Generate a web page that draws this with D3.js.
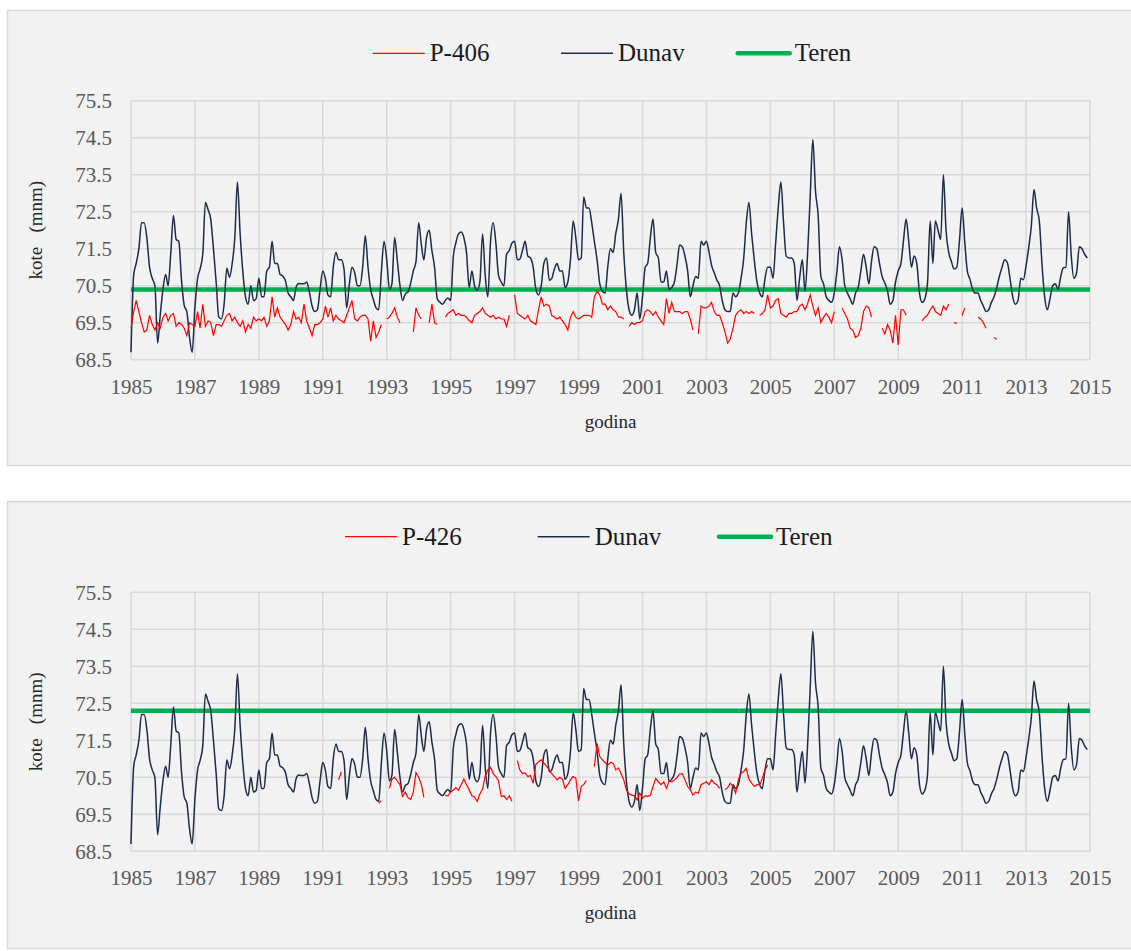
<!DOCTYPE html>
<html>
<head>
<meta charset="utf-8">
<script src="https://cdn.jsdelivr.net/npm/d3@7"></script>
<style>
  body { margin: 0; background: #fff; }
  svg text { font-family: "Liberation Serif", "DejaVu Serif", serif; }
</style>
</head>
<body>
<svg id="chart" width="1131" height="951"></svg>
<script>
// x tick labels (years) and y tick labels (kote)
const yearTicks = [1985, 1987, 1989, 1991, 1993, 1995, 1997, 1999, 2001, 2003, 2005, 2007, 2009, 2011, 2013, 2015];
const levelTicks = [68.5, 69.5, 70.5, 71.5, 72.5, 73.5, 74.5, 75.5];

// monthly Dunav levels, Jan 1985 - Dec 2014 (one row per year)
const dunav = [
  68.7, 70.8, 71.1, 71.5, 72.2, 72.2, 71.8, 71.0, 70.7, 70.5, 68.95, 69.7,
  70.4, 70.8, 70.5, 71.4, 72.4, 71.75, 71.7, 70.65, 69.97, 69.8, 69.1, 68.7,
  69.9, 70.7, 70.95, 71.35, 72.75, 72.55, 72.3, 71.5, 70.6, 69.65, 69.6, 70.0,
  70.97, 70.73, 71.08, 71.8, 73.3, 71.9, 70.9, 70.2, 70.0, 70.5, 70.1, 70.15,
  70.7, 70.2, 70.2, 70.9, 71.0, 71.7, 71.1, 71.1, 70.8, 70.76, 70.63, 70.3,
  70.2, 70.1, 70.45, 70.56, 70.55, 70.55, 70.6, 70.33, 69.95, 69.8, 69.85, 70.4,
  70.9, 70.68, 70.25, 70.2, 71.0, 71.4, 71.2, 71.2, 70.95, 69.9, 70.55, 71.0,
  70.85, 70.5, 70.5, 71.0, 71.85, 71.0, 70.4, 70.13, 69.9, 69.85, 70.9, 71.7,
  71.2, 70.4, 70.55, 71.8, 71.2, 70.5, 70.1, 70.28, 70.33, 70.57, 70.9, 71.15,
  72.2, 71.6, 71.2, 71.8, 72.0, 71.45, 71.0, 70.15, 70.05, 70.0, 70.1, 70.17,
  70.1, 71.3, 71.65, 71.9, 71.95, 71.8, 71.4, 70.45, 70.9, 70.5, 70.38, 70.6,
  71.9, 70.75, 70.2, 71.7, 72.2, 71.65, 70.78, 70.6, 70.5, 71.35, 71.45, 71.65,
  71.7, 71.2, 71.22, 71.45, 71.7, 71.3, 71.25, 71.0, 70.4, 70.25, 70.5, 71.1,
  71.25, 70.65, 70.7, 70.95, 71.1, 70.9, 70.9, 70.45, 70.6, 71.2, 72.25, 71.8,
  71.2, 71.25, 72.9, 72.6, 72.6, 72.2, 71.7, 71.2, 70.55, 70.35, 70.3, 71.0,
  71.5, 71.4, 71.9, 72.3, 73.0, 71.4, 70.4, 69.85, 69.7, 69.85, 70.3, 69.6,
  70.2, 71.0, 71.1, 71.8, 72.3, 71.4, 71.25, 70.6, 70.6, 70.9, 70.4, 70.45,
  70.6, 71.1, 71.6, 71.55, 71.3, 70.9, 70.2, 70.5, 70.75, 70.7, 71.7, 71.6,
  71.7, 71.4, 71.05, 70.85, 70.65, 70.5, 70.1, 69.85, 69.8, 69.8, 70.3, 70.2,
  70.3, 70.7, 71.2, 72.2, 72.75, 71.9, 71.2, 70.6, 70.3, 70.2, 70.7, 71.0,
  71.0, 70.7, 71.6, 72.6, 73.3, 72.2, 71.3, 71.25, 71.25, 71.1, 70.1, 70.7,
  71.2, 70.35, 71.3, 72.9, 74.45, 73.05, 72.4, 70.75, 70.55, 70.2, 70.1, 70.05,
  70.3, 70.9, 71.55, 71.2, 70.5, 70.3, 70.15, 70.0, 70.3, 70.45, 70.9, 71.35,
  71.0, 70.55, 71.15, 71.55, 71.5, 71.1, 70.75, 70.57, 70.35, 70.0, 70.1, 70.6,
  70.9, 71.1, 71.7, 72.3, 71.7, 71.0, 71.3, 71.1, 70.3, 70.05, 70.15, 70.55,
  72.25, 71.1, 72.25, 72.0, 71.75, 73.5, 72.0, 71.4, 71.15, 70.95, 71.0, 71.7,
  72.6, 71.65, 70.9, 70.67, 70.4, 70.3, 70.3, 70.1, 69.95, 69.8, 69.85, 70.05,
  70.2, 70.45, 70.75, 71.0, 71.2, 71.12, 70.7, 70.2, 70.0, 70.1, 70.7, 70.66,
  71.05, 71.55, 72.1, 73.1, 72.6, 72.25, 71.1, 70.2, 69.85, 70.15, 70.5, 70.55,
  70.4, 70.75, 70.98, 71.0, 72.5, 71.3, 70.7, 70.85, 71.55, 71.5, 71.35, 71.25
];

// monthly piezometer P-406, null = no reading
const p406 = [
  69.35, 69.8, 70.1, 69.8, 69.5, 69.25, 69.3, 69.7, 69.45, 69.3, 69.5, 69.35,
  69.65, 69.75, 69.55, 69.7, 69.75, 69.4, 69.5, 69.45, 69.35, 69.15, 69.5, 69.45,
  69.4, 69.8, 69.35, 70.0, 69.4, 69.55, 69.5, 69.15, 69.45, 69.45, 69.4, 69.55,
  69.7, 69.75, 69.55, 69.65, 69.5, 69.4, 69.55, 69.25, 69.45, 69.35, 69.65, 69.55,
  69.6, 69.55, 69.65, 69.4, 69.55, 70.2, 69.65, 69.9, 69.65, 69.55, 69.45, 69.3,
  69.45, 69.8, 69.6, 69.65, 69.5, 70.0, 69.55, 69.35, 69.15, 69.45, 69.45, 69.5,
  69.6, 69.95, 69.65, 69.9, 69.55, 69.7, 69.6, 69.55, 69.5, 69.7, 69.9, 70.1,
  69.6, 69.55, 69.65, 69.7, 69.7, 69.6, 69.0, 69.55, 69.1, 69.25, 69.45, null,
  69.6, 69.65, 69.75, 69.9, 69.65, 69.5, null, null, null, null, 69.25, 69.9,
  69.7, 69.6, null, null, 69.5, 70.0, 69.5, 69.45, null, null, 69.65, 69.75,
  69.8, 69.85, 69.7, 69.75, 69.7, 69.7, 69.65, 69.55, 69.5, 69.7, 69.75, 69.8,
  69.9, 69.75, 69.7, 69.65, 69.7, 69.6, 69.65, 69.6, 69.6, 69.4, 69.7, null,
  70.25, 69.75, 69.7, 69.65, 69.6, 69.7, 69.55, 69.5, 69.45, 69.85, 70.2, 69.95,
  70.0, 69.95, 69.7, 69.65, 69.6, 69.65, 69.55, 69.45, 69.3, 69.65, 69.8, 69.65,
  69.6, 69.65, 69.7, 69.7, 69.7, 69.65, 70.2, 70.35, 70.25, 70.0, 70.0, 69.85,
  69.95, 69.85, 69.8, 69.65, 69.65, 69.6, null, 69.4, 69.5, 69.45, 69.5, 69.5,
  69.55, 69.8, 69.85, 69.8, 69.7, 69.8, 69.65, 69.55, 69.45, 70.15, 69.75, 70.05,
  69.8, 69.8, 69.8, 69.75, 69.8, 69.8, 69.6, 69.3, null, 69.2, 69.95, 69.9,
  69.9, 69.95, 70.05, 69.8, 69.7, 69.7, 69.5, 69.25, 68.95, 69.05, 69.35, 69.7,
  69.8, 69.85, 69.75, 69.8, 69.75, 69.8, 69.75, null, 69.7, 69.75, 69.85, 70.25,
  69.9, 69.95, 70.1, 70.15, 69.75, 69.7, 69.65, 69.75, 69.75, 69.8, 69.8, 69.95,
  70.0, 69.85, 70.0, 70.25, 69.95, 69.7, 69.9, 69.5, 69.65, 69.75, 69.65, 69.5,
  69.8, null, null, 69.9, 69.75, 69.6, 69.35, 69.3, 69.1, 69.15, 69.35, 69.8,
  69.95, 69.9, 69.65, null, null, null, 69.35, 69.2, 69.45, 69.3, 68.95, 69.7,
  68.9, 69.85, 69.85, 69.7, null, null, null, null, null, 69.55, 69.65, 69.7,
  69.85, 69.95, 69.8, 69.75, 69.7, 69.95, 69.85, 70.0, null, 69.5, 69.48, null,
  69.7, 69.9, null, null, null, null, 69.65, 69.6, 69.5, 69.35, null, null,
  69.1, 69.05, null, null, null, null, null, null, null, null, null, null,
  null, null, null, null, null, null, null, null, null, null, null, null,
  null, null, null, null, null, null, null, null, null, null, null, null
];

// monthly piezometer P-426, null = no reading
const p426 = [
  null, null, null, null, null, null, null, null, null, null, null, null,
  null, null, null, null, null, null, null, null, null, null, null, null,
  null, null, null, null, null, null, null, null, null, null, null, null,
  null, null, null, null, null, null, null, null, null, null, null, null,
  null, null, null, null, null, null, null, null, null, null, null, null,
  null, null, null, null, null, null, null, null, null, null, null, null,
  null, null, null, null, null, null, 70.43, 70.65, null, null, null, null,
  null, null, null, null, null, null, null, null, null, 69.8, 69.87, null,
  null, 70.2, 70.45, 70.5, 70.4, 70.3, 69.98, 70.1, 69.95, 69.9, 70.1, 70.63,
  70.5, 70.3, 69.96, null, null, null, null, null, null, null, 70.02, 70.0,
  70.1, 70.15, 70.22, 70.15, 70.3, 70.45, 70.3, 70.16, 70.0, 69.97, 69.85, 70.05,
  70.18, 70.55, 70.7, 70.77, 70.6, 70.52, 70.4, 69.98, 70.0, 69.9, 70.0, 69.85,
  null, 70.95, 70.7, 70.6, 70.62, 70.52, 70.55, 70.34, 70.85, 70.92, 70.97, 70.88,
  70.8, 70.7, 70.6, 70.52, 70.43, 70.5, 70.45, 70.2, 70.3, 70.43, 70.52, 70.48,
  69.86, 70.25, 70.3, 70.41, null, null, 70.79, 71.42, 71.06, 70.97, 70.9, 70.83,
  70.9, 70.88, 70.7, 70.75, 70.6, 70.43, 70.16, 70.05, 70.02, 70.0, 69.89, 70.07,
  69.93, 70.0, 69.98, 70.02, 70.25, 70.47, 70.38, 70.3, 70.38, 70.2, 70.4, 70.38,
  70.43, 70.5, 70.59, 70.6, 70.43, 70.25, 70.16, 70.02, 70.1, 70.07, 70.3, 70.34,
  70.38, 70.3, 70.43, 70.34, 70.3, 70.2, null, 70.16, 70.22, 70.34, 70.25, 70.07,
  70.43, 70.61, 70.65, 70.74, 70.45, 70.34, 70.25, 70.3, 70.3, 70.47, 70.7, 70.83
];

// ground level (Teren) for each piezometer
const terenP406 = 70.4;
const terenP426 = 72.3;

const RED = "#ff0000";
const NAVY = "#1c2b48";
const GREEN = "#00b050";
const GRID = "#d9d9d9";
const FONT = "'Liberation Serif', 'DejaVu Serif', serif";

const svg = d3.select("#chart");

const x = d3.scaleTime()
    .domain([new Date(1985, 0, 1), new Date(2015, 0, 1)])
    .range([131, 1090]);

function toPoints(values) {
    return values.map(function (v, i) {
        return {date: new Date(1985, i, 1), v: v};
    });
}

const panels = [
    {name: "P-406", values: p406, teren: terenP406, box: [10.5, 455], plotTop: 100.7,
     legendY: 53.3, legendX: [372.7, 561, 737.7]},
    {name: "P-426", values: p426, teren: terenP426, box: [501.5, 447], plotTop: 592.3,
     legendY: 536.7, legendX: [345, 537.7, 719]}
];

panels.forEach(function (p) {
    const plotH = 259;
    const y = d3.scaleLinear()
        .domain([68.5, 75.5])
        .range([p.plotTop + plotH, p.plotTop]);

    const g = svg.append("g");

    g.append("rect")
        .attr("x", 7.5).attr("y", p.box[0])
        .attr("width", 1130).attr("height", p.box[1])
        .attr("fill", "#f2f2f2")
        .attr("stroke", GRID).attr("stroke-width", 1.5);

    // gridlines
    g.append("g").selectAll("line.h")
        .data(levelTicks).enter().append("line")
        .attr("x1", x.range()[0]).attr("x2", x.range()[1])
        .attr("y1", d => y(d)).attr("y2", d => y(d))
        .attr("stroke", GRID).attr("stroke-width", 1.5);

    g.append("g").selectAll("line.v")
        .data(yearTicks).enter().append("line")
        .attr("x1", d => x(new Date(d, 0, 1))).attr("x2", d => x(new Date(d, 0, 1)))
        .attr("y1", y(68.5)).attr("y2", y(75.5))
        .attr("stroke", GRID).attr("stroke-width", 1.5);

    // axes (labels only)
    const yAxis = g.append("g")
        .attr("transform", "translate(" + x.range()[0] + ",0)")
        .call(d3.axisLeft(y).tickValues(levelTicks).tickSize(0).tickPadding(19)
            .tickFormat(d3.format(".1f")))
        .attr("font-family", FONT)
        .attr("font-size", 21);
    yAxis.select(".domain").remove();
    yAxis.selectAll("text")
        .style("font-family", FONT)
        .attr("fill", "#595959");

    const xAxis = g.append("g")
        .attr("transform", "translate(0," + y(68.5) + ")")
        .call(d3.axisBottom(x).tickValues(yearTicks.map(d => new Date(d, 0, 1))).tickSize(0)
            .tickFormat(d3.timeFormat("%Y")))
        .attr("font-family", FONT)
        .attr("font-size", 21);
    xAxis.select(".domain").remove();
    xAxis.selectAll("text")
        .attr("y", 34).attr("dy", null)
        .style("font-family", FONT)
        .attr("fill", "#595959");

    // axis titles
    g.append("text")
        .attr("transform", "translate(42," + (p.plotTop + plotH / 2) + ") rotate(-90)")
        .attr("text-anchor", "middle")
        .style("font-size", "19px")
        .style("white-space", "pre")
        .attr("fill", "#262626")
        .text("kote   (mnm)");

    g.append("text")
        .attr("x", (x.range()[0] + x.range()[1]) / 2)
        .attr("y", p.plotTop + plotH + 68)
        .attr("text-anchor", "middle")
        .style("font-size", "19px")
        .attr("fill", "#262626")
        .text("godina");

    // series
    const line = d3.line()
        .defined(d => d.v != null)
        .x(d => x(d.date))
        .y(d => y(d.v));

    g.append("path")
        .datum([{date: x.domain()[0], v: p.teren}, {date: x.domain()[1], v: p.teren}])
        .attr("d", line)
        .attr("fill", "none")
        .attr("stroke", GREEN).attr("stroke-width", 4.5);

    g.append("path")
        .datum(toPoints(dunav))
        .attr("d", line.curve(d3.curveMonotoneX))
        .attr("fill", "none")
        .attr("stroke", NAVY).attr("stroke-width", 1.5);

    g.append("path")
        .datum(toPoints(p.values))
        .attr("d", line.curve(d3.curveLinear))
        .attr("fill", "none")
        .attr("stroke", RED).attr("stroke-width", 1.2);

    // legend
    const items = [
        {label: p.name, color: RED, width: 1.2},
        {label: "Dunav", color: NAVY, width: 1.5},
        {label: "Teren", color: GREEN, width: 4.5}
    ];
    items.forEach(function (it, i) {
        const lx = p.legendX[i];
        g.append("line")
            .attr("x1", lx).attr("x2", lx + 52)
            .attr("y1", p.legendY).attr("y2", p.legendY)
            .attr("stroke", it.color).attr("stroke-width", it.width)
            .attr("stroke-linecap", i == 2 ? "round" : "butt");
        g.append("text")
            .attr("x", lx + 57)
            .attr("y", p.legendY + 8)
            .style("font-size", "25px")
            .attr("fill", "#1a1a1a")
            .text(it.label);
    });
});
</script>
</body>
</html>
